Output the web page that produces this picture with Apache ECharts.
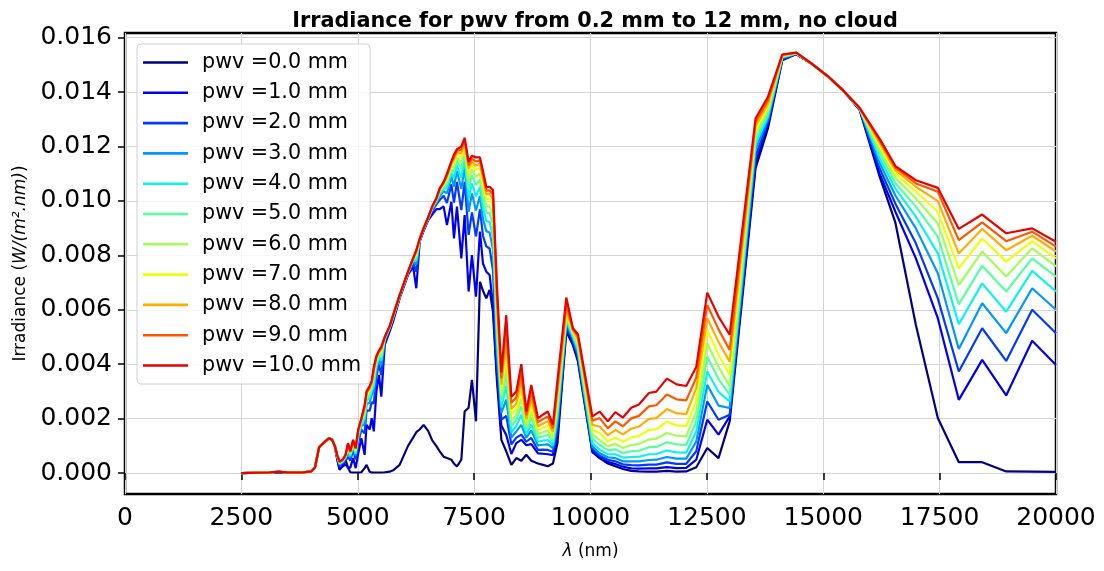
<!DOCTYPE html>
<html><head><meta charset="utf-8">
<script src="https://cdn.jsdelivr.net/npm/echarts@6/dist/echarts.min.js"></script>
<style>html,body{margin:0;padding:0;background:#fff}#c{width:1104px;height:571px}</style>
</head><body><div id="c"></div>
<script>
const wavelengths = [2500,2800,3100,3300,3500,3800,4000,4080,4170,4260,4380,4450,4510,
4560,4610,4680,4740,4790,4840,4900,4955,5010,5077,
5148,5190,5256,5300,5345,5400,5456,5506,5580,5685,5760,
5900,6080,6190,6258,6330,6415,6515,6600,6690,6760,6845,
6916,7011,7067,7131,7225,7296,7382,7453,7540,7625,7690,7762,7833,7905,7990,
8085,8190,8300,8406,8514,8621,8728,8871,8980,9085,9193,9290,9480,9622,9730,
10040,10196,10373,10532,10697,10876,11040,11255,11414,11641,11850,12057,12272,12508,12750,12990,
13546,13811,14120,14421,14743,15100,15422,15780,16210,16550,16990,17461,17912,18414,18930,19488,20000];

const pwv0 = [0,.00001,.00001,.00003,.00001,.00002,.00006,.0002,.00095,.0011,.00128,.00122,.00098,
.0005,.00012,.00028,.00048,.0002,.00003,.00002,.00002,.00002,.00003,
.00018,.0003,.00005,.00002,.00002,.00002,.00002,.00002,.00003,.00005,.0001,
.0003,.001,.0013,.0015,.0016,.00177,.00154,.0012,.00099,.0008,.0006,
.00055,.00049,.00035,.00024,.00049,.00226,.0024,.00342,.0019,.00703,.0067,.00642,.00673,.00593,.0034,
.00122,.0008,.0003,.00055,.00045,.00067,.00045,.00035,.0003,.00025,.00035,.0011,.0052,.0047,.0041,
.00077,.00055,.00035,.00025,.00015,.00008,.00006,.00005,.00005,.00008,.00005,.00006,.00021,.00092,.00055,.0019,
.0112,.01266,.01517,.0154,.01505,.01458,.01407,.01335,.0109,.0092,.00544,.00202,.0004,.0004,.00006,.00005,.00004];

const pwv1 = [0,.00001,.00001,.00003,.00001,.00002,.00006,.0002,.00095,.0011,.00128,.00122,.00098,
.00052,.00014,.00025,.00032,.0002,.0002,.00055,.00018,.00072,.00128,
.00067,.00177,.0016,.00202,.00153,.003,.00361,.00281,.00471,.0052,.00557,
.00642,.00728,.00758,.00679,.0085,.0089,.0093,.0095,.0097,.0097,.0098,
.00911,.00997,.00862,.00979,.00789,.00948,.00667,.00801,.00648,.00887,.0077,.0074,.00728,.00618,.0036,
.00175,.0014,.0007,.0011,.00122,.00102,.00106,.00072,.00071,.00069,.00066,.0014,.0053,.0048,.0042,
.00082,.00059,.00041,.00033,.00023,.00017,.00016,.00017,.00017,.00022,.00018,.00019,.00049,.00196,.00141,.00208,
.0114,.0128,.0152,.0154,.01505,.01458,.01407,.01337,.011,.0096,.00789,.00569,.00269,.00416,.00285,.00486,.00397];

const pwv2 = [0,.00001,.00002,.00004,.00002,.00002,.00006,.0002,.00095,.0011,.00128,.00122,.00098,
.00058,.00026,.00036,.00047,.00059,.00046,.00084,.0005,.0011,.00159,
.00146,.0023,.00229,.00261,.00255,.00356,.00399,.0036,.00483,.00529,.00567,
.00647,.00733,.00772,.0074,.00854,.00894,.00934,.00963,.00987,.01003,.01019,
.00992,.01061,.00994,.0107,.00966,.0107,.00875,.00958,.0087,.00969,.00872,.00833,.00825,.00745,.0041,
.00196,.0021,.00105,.0013,.00141,.00115,.00129,.00085,.00086,.00085,.00078,.0016,.0054,.00488,.0043,
.00089,.00064,.00049,.00043,.00032,.00029,.00028,.00031,.00031,.00039,.00034,.00034,.0008,.00263,.00196,.00214,
.01165,.0129,.01522,.0154,.01505,.01458,.01407,.01338,.0112,.0099,.00844,.00642,.00373,.00532,.00412,.006,.00514];

const pwv3 = [0,.00001,.00002,.00004,.00002,.00002,.00006,.0002,.00095,.0011,.00128,.00122,.00098,
.0006,.00031,.0004,.00054,.00076,.00057,.00097,.00064,.00127,.00173,
.0018,.00253,.00259,.00288,.003,.00381,.00416,.00395,.00489,.00532,.00571,
.00649,.00735,.00778,.00766,.00856,.00896,.00936,.00969,.00995,.01017,.01036,
.01028,.0109,.01053,.0111,.01044,.01124,.0096,.01027,.00965,.01018,.00933,.00889,.00884,.00821,.00452,
.00221,.0027,.0013,.00153,.00177,.0013,.00157,.00102,.00104,.00105,.00092,.00185,.0055,.00495,.0044,
.00098,.00073,.00058,.00055,.00043,.00043,.00043,.00048,.00049,.00059,.00053,.00053,.00116,.00324,.00248,.00239,
.0119,.013,.01525,.01541,.01505,.01458,.01407,.01339,.0114,.0102,.00899,.00734,.00456,.00624,.00514,.00679,.006];

const pwv4 = [0,.00001,.00002,.00005,.00002,.00002,.00006,.0002,.00095,.0011,.00128,.00122,.00098,
.00061,.00034,.00043,.00058,.00085,.00063,.00103,.00071,.00135,.0018,
.00199,.00266,.00275,.00301,.0032,.00394,.00425,.00413,.00492,.00534,.00574,
.0065,.00737,.00781,.00781,.00857,.00897,.00937,.00972,.00999,.01025,.01045,
.01047,.01104,.01084,.01131,.01085,.01152,.01009,.01064,.01017,.01051,.00974,.00926,.00922,.00871,.0049,
.00241,.0032,.0015,.00173,.00214,.00143,.00179,.00115,.00119,.00121,.00103,.0021,.0056,.00502,.00452,
.0011,.00086,.00069,.00069,.00057,.00059,.0006,.00069,.0007,.00083,.00076,.00075,.00153,.00373,.00298,.00263,
.0121,.0131,.01528,.01542,.01505,.01458,.01407,.0134,.01158,.01045,.00942,.00807,.00547,.00697,.00593,.00743,.00667];

const pwv5 = [0,.00001,.00002,.00005,.00002,.00002,.00006,.0002,.00095,.0011,.00128,.00122,.00098,
.00062,.00036,.00045,.00061,.00092,.00068,.00109,.00077,.00142,.00186,
.00213,.00275,.00288,.00312,.00343,.00404,.00432,.00428,.00494,.00536,.00575,
.00652,.00738,.00784,.00792,.00858,.00898,.00938,.00974,.01002,.01031,.01052,
.01062,.01115,.01108,.01148,.01118,.01175,.01046,.01093,.01058,.01078,.01008,.00957,.00955,.00913,.00526,
.00263,.00365,.00173,.00195,.00245,.00158,.00204,.0013,.00135,.0014,.00116,.0023,.0057,.00508,.00463,
.00126,.00104,.00083,.00087,.00074,.0008,.00082,.00095,.00096,.00113,.00105,.00103,.0019,.00428,.00345,.00287,
.01228,.0132,.0153,.01542,.01505,.01458,.01407,.0134,.01175,.01065,.00979,.00869,.0062,.00762,.00667,.00789,.00722];

const pwv6 = [0,.00001,.00002,.00005,.00002,.00002,.00006,.0002,.00095,.0011,.00128,.00122,.00098,
.00063,.00038,.00047,.00063,.00097,.00072,.00113,.00082,.00148,.0019,
.00224,.00283,.00298,.00321,.00357,.00412,.00438,.00439,.00496,.00537,.00577,
.00652,.00738,.00786,.008,.00859,.00899,.00939,.00976,.01004,.01035,.01057,
.01074,.01124,.01127,.0116,.01142,.01192,.01076,.01115,.01088,.011,.01035,.00982,.00981,.00947,.0056,
.00283,.00405,.00193,.00214,.00275,.0017,.00226,.00144,.0015,.00156,.00127,.0025,.0058,.00513,.00473,
.00143,.00122,.00099,.00107,.00092,.00103,.00107,.00123,.00126,.00147,.00137,.00135,.00226,.00477,.0039,.00318,
.01245,.01335,.01532,.01543,.01505,.01458,.01407,.01341,.0119,.01085,.01009,.00917,.00691,.00814,.00722,.00826,.00759];

const pwv7 = [0,.00001,.00002,.00005,.00002,.00002,.00006,.0002,.00095,.0011,.00128,.00122,.00098,
.00064,.00039,.00048,.00065,.00102,.00075,.00116,.00085,.00152,.00194,
.00234,.00289,.00306,.00328,.00369,.00418,.00442,.00448,.00497,.00538,.00578,
.00653,.00739,.00787,.00807,.00859,.00899,.00939,.00977,.01006,.01039,.01062,
.01083,.01132,.01142,.01171,.01163,.01206,.01101,.01133,.01114,.01122,.01062,.01007,.01007,.00981,.00592,
.00306,.0045,.00215,.00236,.00306,.00185,.00251,.00159,.00167,.00174,.0014,.0027,.0059,.00518,.00483,
.00159,.00147,.00117,.0013,.00115,.00131,.00136,.00158,.00161,.00188,.00175,.00172,.00269,.00526,.00435,.00361,
.0126,.01345,.01534,.01544,.01505,.01458,.01407,.01341,.01203,.011,.01034,.0096,.00752,.00862,.00777,.00852,.00789];

const pwv8 = [0,.00001,.00002,.00005,.00002,.00002,.00006,.0002,.00095,.0011,.00128,.00122,.00098,
.00064,.0004,.00049,.00066,.00105,.00076,.00118,.00088,.00155,.00196,
.00239,.00293,.0031,.00332,.00376,.00422,.00445,.00454,.00498,.00539,.00579,
.00653,.00739,.00788,.00812,.00859,.00899,.00939,.00978,.01008,.01041,.01065,
.01089,.01136,.01152,.01177,.01175,.01215,.01119,.01144,.01129,.01138,.01083,.01025,.01026,.01006,.00624,
.00325,.0049,.00235,.00256,.00336,.00197,.00274,.00172,.00182,.0019,.00151,.0029,.006,.00523,.00493,
.00177,.00171,.00139,.00158,.00142,.00163,.00171,.00199,.00202,.00235,.0022,.00216,.00312,.00569,.00482,.00409,
.01275,.01355,.01535,.01544,.01505,.01458,.01407,.01342,.01213,.01113,.01052,.00999,.00807,.00897,.00819,.00872,.00814];

const pwv9 = [0,.00001,.00002,.00005,.00002,.00002,.00006,.0002,.00095,.0011,.00128,.00122,.00098,
.00065,.00041,.00049,.00067,.00107,.00078,.0012,.0009,.00157,.00198,
.00245,.00296,.00315,.00336,.00383,.00426,.00447,.00459,.00499,.0054,.0058,
.00654,.0074,.00789,.00816,.0086,.009,.0094,.00979,.01009,.01044,.01067,
.01094,.01141,.01161,.01184,.01188,.01223,.01131,.01155,.01145,.01149,.01096,.01038,.01039,.01023,.00655,
.00348,.00535,.00258,.00278,.00367,.00212,.00299,.00187,.00198,.00208,.00164,.0032,.0062,.00528,.00502,
.00192,.00202,.00164,.0019,.00172,.00201,.0021,.00245,.00249,.00289,.00271,.00267,.00351,.00618,.00528,.00452,
.0129,.01368,.01537,.01545,.01505,.01458,.01407,.01342,.01222,.01122,.01064,.01034,.00856,.00921,.00852,.00887,.00832];

const pwv10 = [0,.00001,.00002,.00005,.00002,.00002,.00006,.0002,.00095,.0011,.00128,.00122,.00098,
.00065,.00042,.0005,.00068,.0011,.0008,.00122,.00092,.0016,.002,
.0025,.003,.0032,.0034,.0039,.0043,.0045,.00465,.005,.0054,.0058,
.00654,.0074,.0079,.0082,.0086,.009,.0094,.0098,.0101,.01046,.0107,
.011,.01145,.0117,.0119,.012,.01232,.01144,.01166,.0116,.0116,.0111,.0105,.01052,.0104,.0069,
.0037,.0058,.0028,.003,.004,.00226,.00324,.00202,.00215,.00226,.00177,.0034,.00645,.00532,.0051,
.00208,.00226,.0019,.00224,.00204,.0024,.00252,.00294,.00299,.00347,.00326,.0032,.0039,.00663,.00575,.00508,
.01303,.01382,.01538,.01545,.01505,.01458,.01407,.01342,.01229,.01128,.01076,.01048,.00897,.0095,.00881,.00899,.0085];

const seriesValues = [pwv0,pwv1,pwv2,pwv3,pwv4,pwv5,pwv6,pwv7,pwv8,pwv9,pwv10];
const seriesNames = ['pwv =0.0 mm','pwv =1.0 mm','pwv =2.0 mm','pwv =3.0 mm','pwv =4.0 mm','pwv =5.0 mm',
  'pwv =6.0 mm','pwv =7.0 mm','pwv =8.0 mm','pwv =9.0 mm','pwv =10.0 mm'];
const seriesColors = ['#000080','#0000e9','#003aff','#0097ff','#0bf3ec','#56ffa1',
  '#a1ff56','#ecff0b','#ffad00','#ff5700','#e90000'];
const yTickValues = [0,0.002,0.004,0.006,0.008,0.010,0.012,0.014,0.016];
const xTickValues = [0,2500,5000,7500,10000,12500,15000,17500,20000];

const FONT = 'DejaVu Sans';
const chart = echarts.init(document.getElementById('c'), null, {renderer:'canvas'});
const series = seriesValues.map((vals, k) => ({
  name: seriesNames[k],
  type: 'line',
  data: wavelengths.map((w, i) => [w, vals[i]]),
  symbol: 'none',
  showSymbol: false,
  smooth: false,
  lineStyle: {color: seriesColors[k], width: 2.2},
  itemStyle: {color: seriesColors[k]},
  emphasis: {disabled: true},
  z: 3
}));

chart.setOption({
  animation: false,
  backgroundColor: '#fff',
  title: {
    text: 'Irradiance for pwv from 0.2 mm to 12 mm, no cloud',
    left: 590, top: 6, textAlign: 'center',
    textStyle: {fontFamily: FONT, fontSize: 20.8, fontWeight: 'bold', color: '#000'}
  },
  legend: {
    orient: 'vertical',
    left: 137, top: 44,
    padding: [8, 9, 8, 6],
    itemWidth: 45, itemHeight: 2.6, itemGap: 9.3,
    icon: 'rect',
    backgroundColor: 'rgba(255,255,255,0.8)',
    borderColor: '#d0d0d0', borderWidth: 1, borderRadius: 4,
    textStyle: {fontFamily: FONT, fontSize: 20.7, color: '#000', lineHeight: 21, padding: [0,0,0,9]},
    data: seriesNames.map((n, k) => ({name: n, icon: 'rect', itemStyle: {color: seriesColors[k]}})),
    selectedMode: false
  },
  grid: {
    left: 125, right: 48, top: 33, bottom: 77,
    show: true, borderColor: '#000', borderWidth: 2.5,
    backgroundColor: 'transparent', containLabel: false
  },
  xAxis: {
    type: 'value', min: 0, max: 20000, interval: 2500,
    axisLine: {show: false},
    axisTick: {show: true, inside: false, length: 7, lineStyle: {color: '#000', width: 1.5}},
    axisLabel: {fontFamily: FONT, fontSize: 25, color: '#000', margin: 12,
      customValues: xTickValues, formatter: v => String(v)},
    splitLine: {show: true, lineStyle: {color: '#d4d4d4', width: 1}},
    name: '{i|λ} (nm)', nameLocation: 'middle', nameGap: 49,
    nameTextStyle: {fontFamily: FONT, fontSize: 17, color: '#000',
      rich: {i: {fontFamily: FONT, fontSize: 17, fontStyle: 'italic', color: '#000'}}}
  },
  yAxis: {
    type: 'value', min: -0.00077, max: 0.01617, interval: 0.002,
    axisLine: {show: false},
    axisTick: {show: true, inside: false, length: 7, lineStyle: {color: '#000', width: 1.5},
      customValues: yTickValues},
    axisLabel: {fontFamily: FONT, fontSize: 25, color: '#000', margin: 13,
      customValues: yTickValues,
      formatter: v => (Math.abs(Math.round(v / 0.002) * 0.002 - v) < 1e-9 ? v.toFixed(3) : '')},
    splitLine: {show: true, lineStyle: {color: '#d4d4d4', width: 1}},
    name: '{n|Irradiance (}{i|W/(m².nm)}{n|)}',
    nameLocation: 'middle', nameGap: 96, nameRotate: 90,
    nameTextStyle: {fontFamily: FONT, fontSize: 17, color: '#000',
      rich: {n: {fontFamily: FONT, fontSize: 17, color: '#000'},
             i: {fontFamily: FONT, fontSize: 17, fontStyle: 'italic', color: '#000'}}}
  },
  series: series
});
</script>
</body></html>
